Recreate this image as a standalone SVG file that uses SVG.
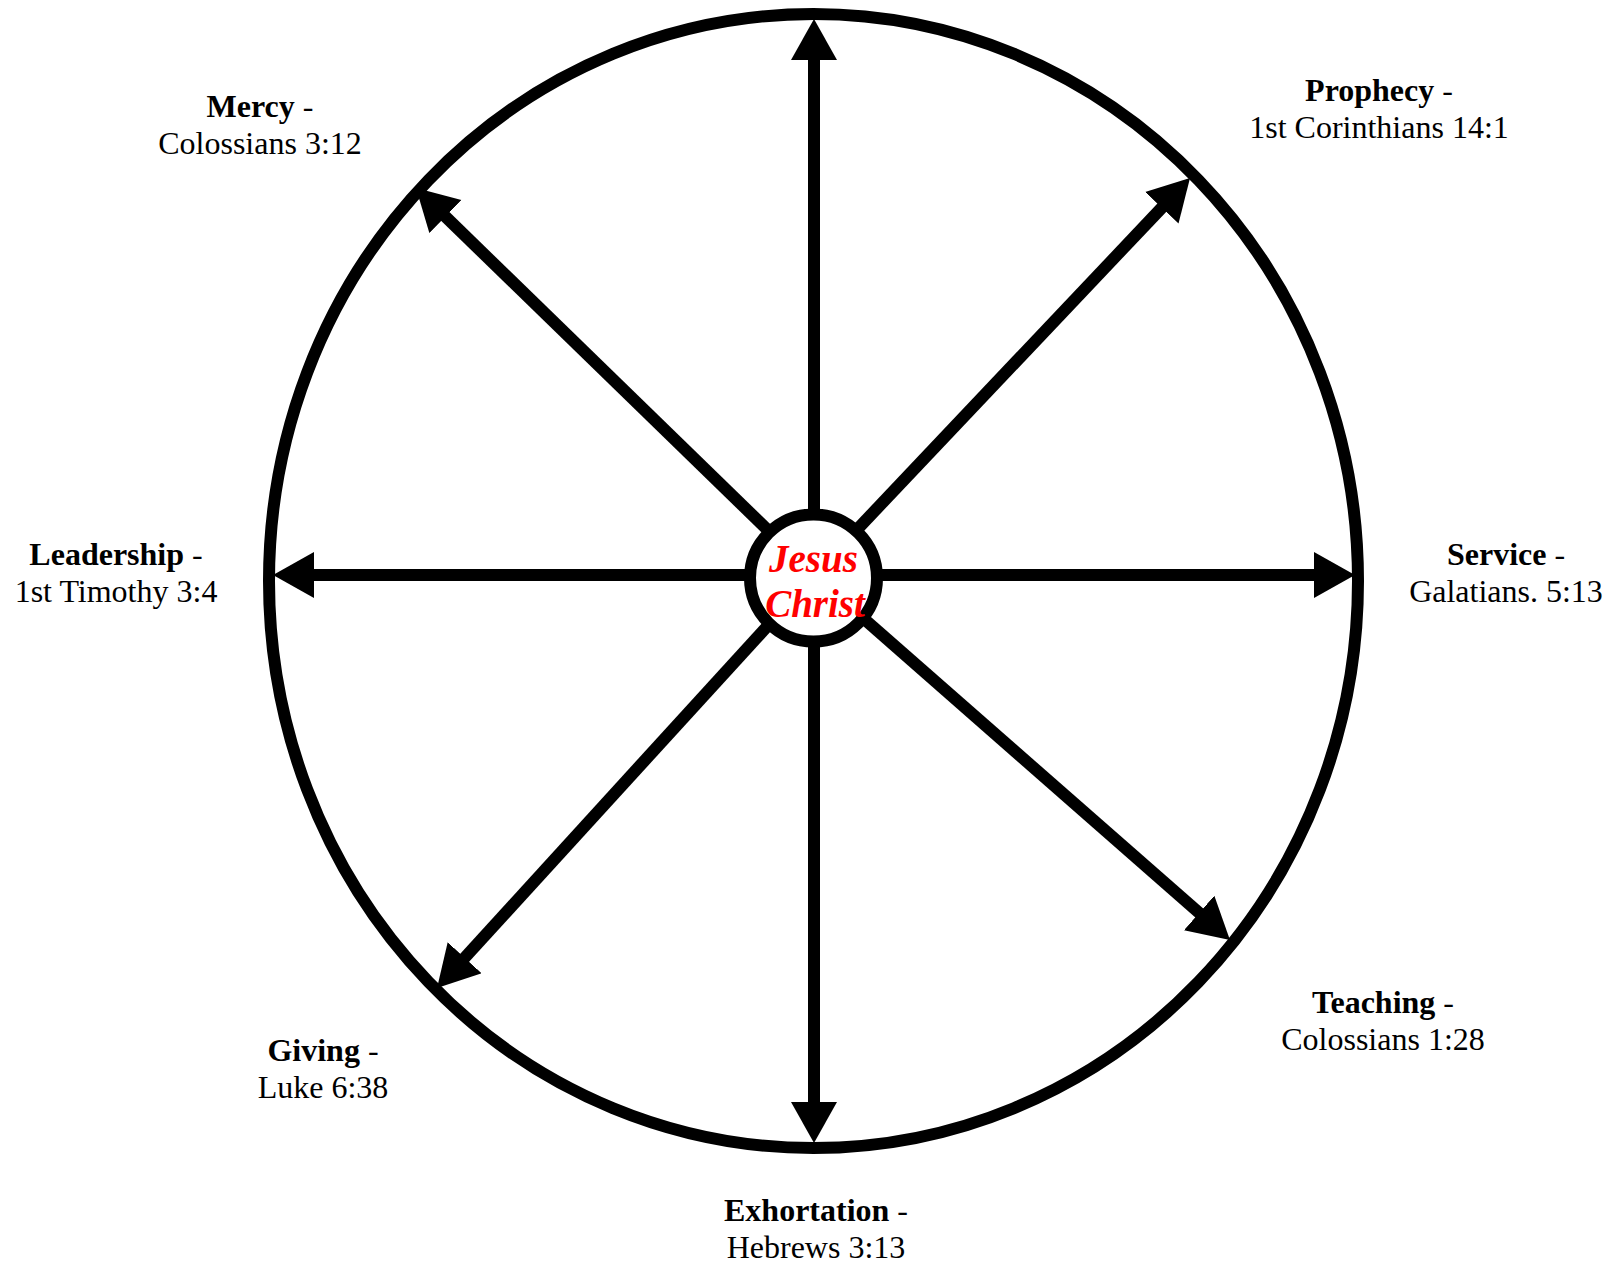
<svg xmlns="http://www.w3.org/2000/svg" width="1616" height="1266" viewBox="0 0 1616 1266">
<style>
.lbl{font-family:"Liberation Serif","Times New Roman",serif;font-size:32px;fill:#000;text-anchor:middle}
.b{font-weight:bold}
.shaft{stroke:#000;stroke-width:12;fill:none;marker-end:url(#ah)}
.ring{fill:none;stroke:#000;stroke-width:12}
.center{fill:#fff;stroke:#000;stroke-width:12}
.jc{font-family:"Liberation Serif","Times New Roman",serif;font-size:39px;font-weight:bold;font-style:italic;fill:#ff0000;text-anchor:middle}
</style>
<defs>
<marker id="ah" markerUnits="userSpaceOnUse" markerWidth="44" markerHeight="48" refX="1" refY="23" orient="auto" viewBox="0 0 44 48">
<path d="M0,0 L41,23 L0,46 Z" fill="#000"/>
</marker>
</defs>
<g id="outer-circle">
<ellipse class="ring" cx="813.5" cy="581" rx="544.5" ry="567"/>
</g>
<g id="connectors">
<line class="shaft" x1="814" y1="575" x2="814" y2="59"/>
<line class="shaft" x1="814" y1="575" x2="814" y2="1103"/>
<line class="shaft" x1="814" y1="575" x2="313" y2="575"/>
<line class="shaft" x1="814" y1="575" x2="1315" y2="575"/>
<line class="shaft" x1="814" y1="575" x2="444.7" y2="215.9"/>
<line class="shaft" x1="814" y1="575" x2="1162.5" y2="207"/>
<line class="shaft" x1="814" y1="575" x2="1199.9" y2="913.6"/>
<line class="shaft" x1="814" y1="575" x2="464" y2="958.5"/>
</g>
<g id="jesus-christ">
<circle class="center" cx="813.5" cy="578" r="63.5"/>
<text class="jc" x="813.5" y="571.5">Jesus</text>
<text class="jc" x="815" y="616.5">Christ</text>
</g>
<g id="mercy">
<text class="lbl" x="260" y="117"><tspan class="b">Mercy</tspan> -</text>
<text class="lbl" x="260" y="154">Colossians 3:12</text>
</g>
<g id="prophecy">
<text class="lbl" x="1379" y="101"><tspan class="b">Prophecy</tspan> -</text>
<text class="lbl" x="1379" y="138">1st Corinthians 14:1</text>
</g>
<g id="leadership">
<text class="lbl" x="116" y="565"><tspan class="b">Leadership</tspan> -</text>
<text class="lbl" x="116" y="602">1st Timothy 3:4</text>
</g>
<g id="service">
<text class="lbl" x="1506" y="565"><tspan class="b">Service</tspan> -</text>
<text class="lbl" x="1506" y="602">Galatians. 5:13</text>
</g>
<g id="giving">
<text class="lbl" x="323" y="1061"><tspan class="b">Giving</tspan> -</text>
<text class="lbl" x="323" y="1098">Luke 6:38</text>
</g>
<g id="teaching">
<text class="lbl" x="1383" y="1013"><tspan class="b">Teaching</tspan> -</text>
<text class="lbl" x="1383" y="1050">Colossians 1:28</text>
</g>
<g id="exhortation">
<text class="lbl" x="816" y="1221"><tspan class="b">Exhortation</tspan> -</text>
<text class="lbl" x="816" y="1258">Hebrews 3:13</text>
</g>
</svg>
